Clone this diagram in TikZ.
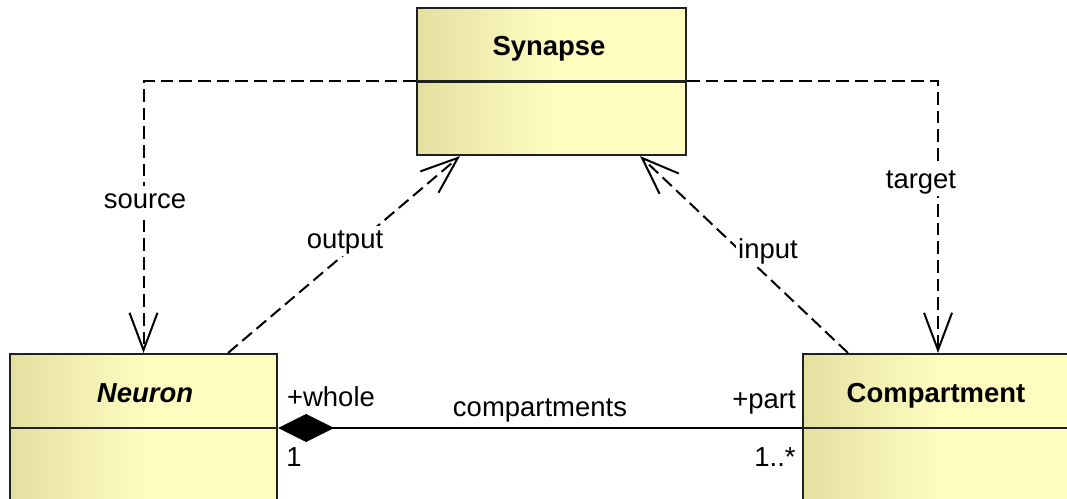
\documentclass[tikz,border=0pt]{standalone}
\usepackage{fontspec}
\setmainfont{Liberation Sans}
\usetikzlibrary{arrows.meta,calc}
\definecolor{ydark}{HTML}{E3E0A0}
\definecolor{ylight}{HTML}{FFFCC0}
\definecolor{edge}{HTML}{202020}
\pgfdeclarehorizontalshading{umlshade}{100bp}{color(0bp)=(ydark); color(25bp)=(ydark); color(50bp)=(ylight); color(100bp)=(ylight)}
\tikzset{
  umlclass/.style={draw=edge, line width=1.6pt, shading=umlshade, rectangle, inner sep=0pt},
  divider/.style={draw=edge, line width=1.6pt},
  title/.style={font=\fontsize{20.6}{24}\selectfont\bfseries, inner sep=0pt, text height=14.7pt, text depth=0pt},
  lbl/.style={font=\fontsize{20.6}{24}\selectfont, inner sep=0pt, text height=14.7pt, text depth=0pt},
  lblw/.style={font=\fontsize{20.6}{24}\selectfont, fill=white, inner sep=2pt, text height=14.7pt, text depth=4pt},
  dep/.style={line width=1.5pt, dash pattern=on 9.5pt off 4.5pt, -{Straight Barb[length=28pt,width=21pt,line width=1.5pt]}},
  compo/.style={line width=1.5pt, {Diamond[length=42pt,width=21pt,fill=black]}-}
}
\begin{document}
\begin{tikzpicture}[x=0.75pt,y=-0.75pt]
\useasboundingbox (0,0) rectangle (1067,499);
\clip (0,0) rectangle (1067,499);
% class boxes
\node[umlclass, minimum width=201.75pt, minimum height=110.25pt] (syn) at (551.5,81.5) {};
\node[umlclass, minimum width=200.25pt, minimum height=111pt] (neu) at (143.5,428) {};
\node[umlclass, minimum width=202.5pt, minimum height=111pt] (comp) at (938,428) {};
\draw[divider] (syn.west) -- (syn.east);
\draw[divider] (neu.west) -- (neu.east);
\draw[divider] (comp.west) -- (comp.east);
% titles
\node[title] (tsyn) at (549,46) {Synapse};
\node[title, font=\fontsize{20.6}{24}\selectfont\bfseries\itshape] (tneu) at (145,393) {Neuron};
\node[title] (tcomp) at (936,393) {Compartment};
% connection points
\coordinate (outA) at ([xshift=63.4pt]neu.north);
\coordinate (outB) at ([xshift=-68.6pt]syn.south);
\coordinate (inA) at ([xshift=-67.5pt]comp.north);
\coordinate (inB) at ([xshift=66.4pt]syn.south);
% dependencies
\draw[dep] (syn.west) -| (neu.north);
\draw[dep] (syn.east) -| (comp.north);
\draw[dep] (outA) -- (outB);
\draw[dep] (inA) -- (inB);
% composition
\draw[compo] (neu.east) -- (comp.west);
% labels
\node[lblw] (lsource) at (145,201) {source};
\node[lblw] (ltarget) at (921,181) {target};
\node[lblw] (loutput) at (345,241) {output};
\node[lblw] (linput) at (768,251) {input};
\node[lbl] (lwhole) at (331,397) {+whole};
\node[lbl] (lone) at (294,457) {1};
\node[lbl] (lcomps) at (540,407) {compartments};
\node[lbl] (lpart) at (764,399) {+part};
\node[lbl] (lmany) at (775,457) {1..*};
\end{tikzpicture}
\end{document}
